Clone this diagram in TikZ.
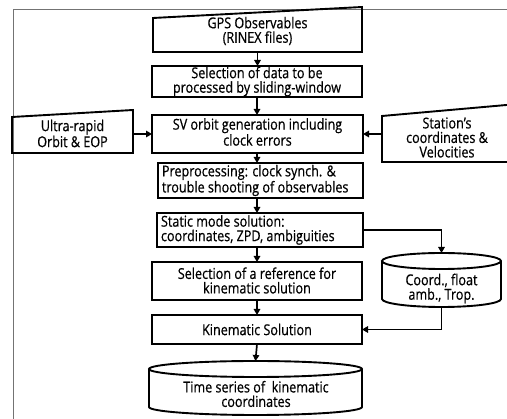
\documentclass[tikz,border=0pt]{standalone}
\usepackage{fontspec}
\setmainfont{Open Sans}[FakeStretch=0.84, FakeBold=0.6]
\usetikzlibrary{arrows.meta}
\begin{document}
\begin{tikzpicture}[x=1pt,y=-1pt,
  every node/.style={font=\fontsize{15}{14.5}\selectfont, align=center, inner sep=0pt, outer sep=0pt},
  thk/.style={line width=1.5pt},
  pth/.style={line width=1.9pt, line join=miter},
  rbox/.style={draw, thk, rectangle},
  shp/.style={rectangle},
  lnk/.style={line width=1.7pt, -{Triangle[length=6pt,width=6.5pt]}},
  frame/.style={draw=black!55, line width=0.7pt}
]
\useasboundingbox (0,0) rectangle (507,419);
\draw[frame] (13,419) -- (13,9) -- (507,9);

% GPS observables (slanted top)
\node[shp, minimum width=209, minimum height=45] (gps) at (257.5,29.5) {};
\draw[pth] (gps.south west) -- ([yshift=-11pt]gps.north west) -- (gps.north east) -- (gps.south east) -- cycle;
\node (gpst) at (257.5,31) {GPS Observables\\(RINEX files)};

\node[rbox, minimum width=210, minimum height=31] (sel) at (257,81.5) {Selection of data to be\\processed by sliding-window};

\node[rbox, minimum width=211, minimum height=38] (sv) at (257.5,134) {};
\node (svt) at (257.5,132) {SV orbit generation including\\clock errors};

% left input
\node[shp, minimum width=121, minimum height=43] (ura) at (72.5,131.5) {};
\draw[pth] (ura.south west) -- ([yshift=-7pt]ura.north west) -- (ura.north east) -- (ura.south east) -- cycle;
\node (urat) at (72.5,133.5) {Ultra-rapid\\Orbit \& EOP};

% right input
\node[shp, minimum width=130, minimum height=57.5] (stn) at (447,133.25) {};
\draw[pth] (stn.south west) -- ([yshift=-11.5pt]stn.north west) -- (stn.north east) -- (stn.south east) -- cycle;
\node (stnt) at (447,137.5) {Station’s\\coordinates \&\\Velocities};

\node[rbox, minimum width=205, minimum height=35] (pre) at (260.5,180.5) {};
\node[anchor=west, align=left] (pret) at (162,180.5) {Preprocessing: clock synch. \&\\trouble shooting of observables};

\node[rbox, minimum width=206, minimum height=34] (st) at (260,230) {};
\node[anchor=west, align=left] (stt) at (161,230) {Static mode solution:\\coordinates, ZPD, ambiguities};

\node[rbox, minimum width=210, minimum height=38] (ref) at (257,281) {};
\node (reft) at (257,280.5) {Selection of a reference for\\kinematic solution};

\node[rbox, minimum width=210, minimum height=29] (kin) at (257,329.5) {Kinematic Solution};

% coord cylinder
\node[shp, minimum width=119, minimum height=54] (cyl) at (441.5,280) {};
\draw[pth] ([yshift=-8pt]cyl.north west) -- ([yshift=8pt]cyl.south west)
  arc[start angle=180,end angle=360,x radius=59.5pt,y radius=8pt]
  -- ([yshift=-8pt]cyl.north east)
  arc[start angle=0,end angle=180,x radius=59.5pt,y radius=8pt]
  arc[start angle=180,end angle=360,x radius=59.5pt,y radius=8pt];
\node (cylt) at (441.5,288.5) {Coord., float\\amb., Trop.};

% time series cylinder
\node[shp, minimum width=213, minimum height=54] (ts) at (255.5,388) {};
\draw[pth] ([yshift=-8pt]ts.north west) -- ([yshift=8pt]ts.south west)
  arc[start angle=180,end angle=360,x radius=106.5pt,y radius=8pt]
  -- ([yshift=-8pt]ts.north east)
  arc[start angle=0,end angle=180,x radius=106.5pt,y radius=8pt]
  arc[start angle=180,end angle=360,x radius=106.5pt,y radius=8pt];
\node (tst) at (256,394) {Time series of \ kinematic\\coordinates};

% connectors
\draw[lnk] (gps.south) -- (gps.south |- sel.north);
\draw[lnk] (sel.south) -- (sel.south |- sv.north);
\draw[lnk] (sel.south |- sv.south) -- (sel.south |- pre.north);
\draw[lnk] (sel.south |- pre.south) -- (sel.south |- st.north);
\draw[lnk] (sel.south |- st.south) -- (ref.north);
\draw[lnk] (ref.south) -- (kin.north);
\draw[lnk] (kin.south) -- (ts.north);
\draw[lnk] (sv.west -| ura.east) -- (sv.west);
\draw[lnk] (sv.east -| stn.west) -- (sv.east);
\draw[lnk] (st.east) -| (cyl.north);
\draw[lnk] (cyl.south) |- (kin.east);
\end{tikzpicture}
\end{document}
